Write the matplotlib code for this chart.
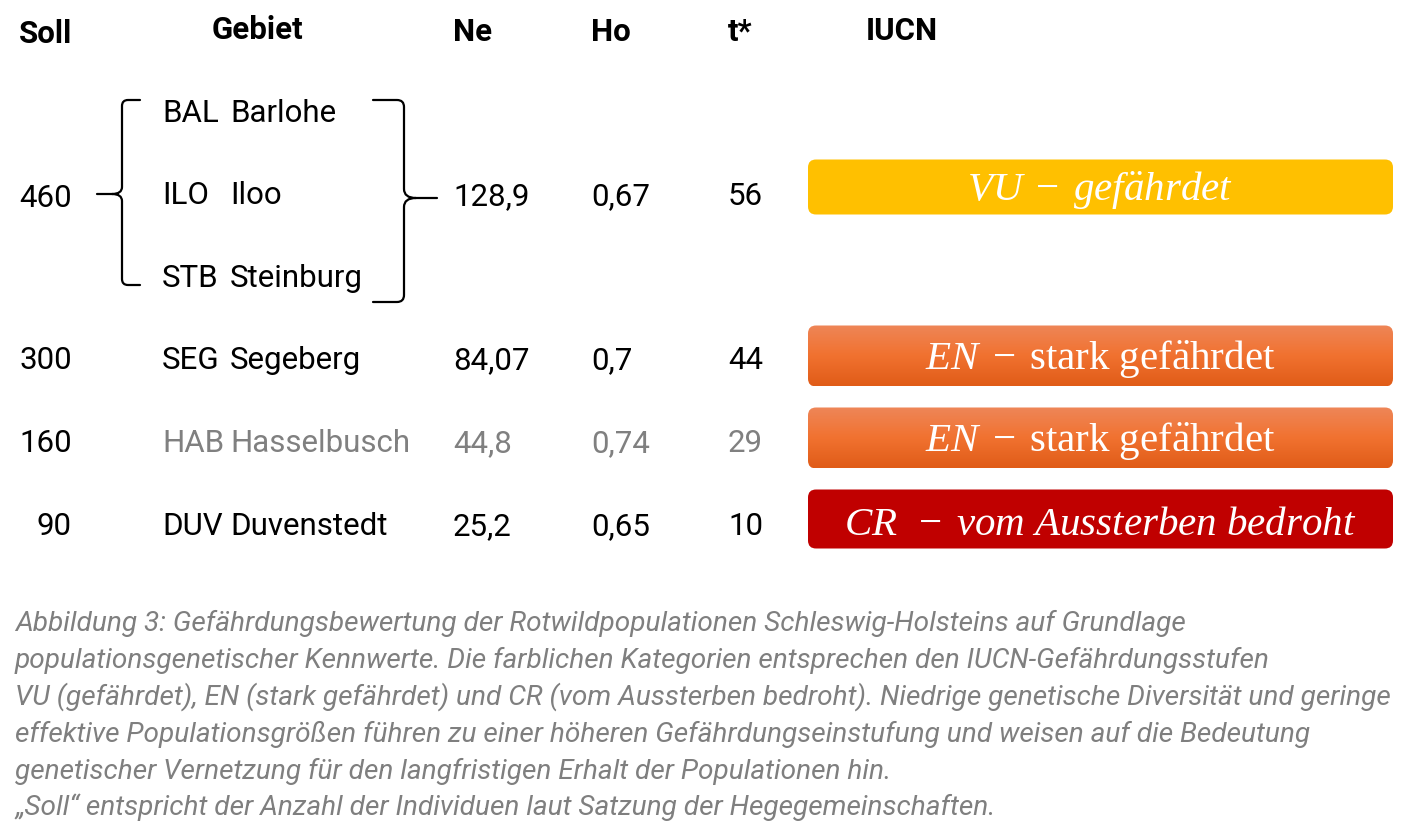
import matplotlib
matplotlib.use("Agg")
import matplotlib.pyplot as plt
import numpy as np
from matplotlib.patches import FancyBboxPatch, PathPatch
from matplotlib.path import Path

# ---------------------------------------------------------------------------
# data
# ---------------------------------------------------------------------------
headers = ["Soll", "Gebiet", "Ne", "Ho", "t*", "IUCN"]

soll = [460, 300, 160, 90]
codes = ["BAL", "ILO", "STB", "SEG", "HAB", "DUV"]
names = ["Barlohe", "Iloo", "Steinburg", "Segeberg", "Hasselbusch", "Duvenstedt"]
ne = ["128,9", "84,07", "44,8", "25,2"]
ho = ["0,67", "0,7", "0,74", "0,65"]
t_star = [56, 44, 29, 10]
iucn = [r"$VU\;-\;gef\ddot{a}hrdet$",
        r"$EN\;-\;\mathrm{stark\ gef\ddot{a}hrdet}$",
        r"$EN\;-\;\mathrm{stark\ gef\ddot{a}hrdet}$",
        r"$CR\;\;-\;vom\ Aussterben\ bedroht$"]
iucn_cat = ["VU", "EN", "EN", "CR"]
grey_row = [False, False, True, False]

caption = [
    "Abbildung 3: Gefährdungsbewertung der Rotwildpopulationen Schleswig-Holsteins auf Grundlage",
    "populationsgenetischer Kennwerte. Die farblichen Kategorien entsprechen den IUCN-Gefährdungsstufen",
    "VU (gefährdet), EN (stark gefährdet) und CR (vom Aussterben bedroht). Niedrige genetische Diversität und geringe",
    "effektive Populationsgrößen führen zu einer höheren Gefährdungseinstufung und weisen auf die Bedeutung",
    "genetischer Vernetzung für den langfristigen Erhalt der Populationen hin.",
    "\u201eSoll\u201c entspricht der Anzahl der Individuen laut Satzung der Hegegemeinschaften.",
]

# ---------------------------------------------------------------------------
# layout (pixel units, y downwards)
# ---------------------------------------------------------------------------
W, H = 1407, 830
area_y = [111, 193, 276, 358, 441, 524]
row_y = [194, 358, 441, 524]
box_y = [187, 356, 438, 519]
box_h = [55, 61, 61, 59]
box_x0, box_x1 = 808, 1393

head_x = [72, 257, 453, 591, 728, 866]
head_ha = ["right", "center", "left", "left", "left", "left"]
head_base = [43, 39, 41, 41, 41, 40]

col_soll, col_code, col_name = 72, 162, 230
col_ne, col_ho, col_t = 453, 591, 728
cap_half = 11

plt.rcParams["font.family"] = ["Roboto", "DejaVu Sans"]
plt.rcParams["mathtext.fontset"] = "custom"
plt.rcParams["mathtext.rm"] = "Liberation Serif"
plt.rcParams["mathtext.it"] = "Liberation Serif:italic"

fig = plt.figure(figsize=(W / 100, H / 100), dpi=100)
ax = fig.add_axes([0, 0, 1, 1])
ax.set_xlim(0, W)
ax.set_ylim(H, 0)
ax.axis("off")

black = "#000000"
grey = "#808080"
fs = 22.5

# header
for h, x, ha, yb in zip(headers, head_x, head_ha, head_base):
    ax.text(x, yb, h, ha=ha, va="baseline", fontsize=fs, fontweight="bold", color=black)

# area column
for c, n, y in zip(codes, names, area_y):
    col = grey if c == "HAB" else black
    ax.text(col_code, y + cap_half, c, ha="left", va="baseline", fontsize=fs, color=col)
    ax.text(col_name, y + cap_half, n, ha="left", va="baseline", fontsize=fs, color=col)

# value columns
for i, y in enumerate(row_y):
    col = grey if grey_row[i] else black
    yb = y + cap_half
    ax.text(col_soll, yb + 2 * (i == 0), str(soll[i]), ha="right", va="baseline", fontsize=fs, color=black)
    ax.text(col_ne, yb, ne[i], ha="left", va="baseline", fontsize=fs, color=col)
    ax.text(col_ho, yb, ho[i], ha="left", va="baseline", fontsize=fs, color=col)
    ax.text(col_t, yb, str(t_star[i]), ha="left", va="baseline", fontsize=fs, color=col)

# IUCN boxes
en_grad = np.array([[0xEE, 0x86, 0x58], [0xF1, 0x72, 0x30], [0xE0, 0x5C, 0x18]]) / 255
for lab, cat, yc, hh in zip(iucn, iucn_cat, box_y, box_h):
    y0 = yc - hh / 2
    patch = FancyBboxPatch((box_x0, y0), box_x1 - box_x0, hh,
                           boxstyle="round,pad=0,rounding_size=8",
                           linewidth=0, zorder=1)
    if cat == "EN":
        patch.set_facecolor("none")
        ax.add_patch(patch)
        n = 64
        tt = np.linspace(0, 1, n)
        grad = np.empty((n, 1, 3))
        for k in range(3):
            grad[:, 0, k] = np.interp(tt, [0, 0.5, 1], en_grad[:, k])
        im = ax.imshow(grad, extent=(box_x0, box_x1, y0 + hh, y0), origin="upper",
                       aspect="auto", zorder=1, interpolation="bilinear")
        im.set_clip_path(patch)
    else:
        patch.set_facecolor("#FFC000" if cat == "VU" else "#C00000")
        ax.add_patch(patch)
    ax.text((box_x0 + box_x1) / 2, yc + 4, lab, ha="center", va="center",
            fontsize=29.5, color="white", zorder=3)

# braces
lw = 1.6
L = Path.LINETO
M = Path.MOVETO
Q = Path.CURVE3
left_v = [
    ((140, 100), M), ((128, 100), L), ((122, 100), Q), ((122, 106), Q),
    ((122, 187), L), ((122, 194), Q), ((112, 194), Q), ((97, 194), L),
    ((112, 194), M), ((122, 194), Q), ((122, 201), Q),
    ((122, 279), L), ((122, 285), Q), ((128, 285), Q), ((140, 285), L),
]
right_v = [
    ((373, 100), M), ((397, 100), L), ((404, 100), Q), ((404, 107), Q),
    ((404, 189), L), ((404, 198), Q), ((416, 198), Q), ((437, 198), L),
    ((416, 198), M), ((404, 198), Q), ((404, 207), Q),
    ((404, 295), L), ((404, 302), Q), ((397, 302), Q), ((373, 302), L),
]
for verts in (left_v, right_v):
    path = Path([v for v, c in verts], [c for v, c in verts])
    ax.add_patch(PathPatch(path, facecolor="none", edgecolor=black, lw=lw,
                           capstyle="round", joinstyle="round"))

# caption
cap_base = [631, 668, 705, 742, 779, 815]
for line, yb in zip(caption, cap_base):
    ax.text(15, yb, line, ha="left", va="baseline", fontsize=20.2,
            fontstyle="italic", color="#7F7F7F")

fig.savefig("out.png", dpi=100)
